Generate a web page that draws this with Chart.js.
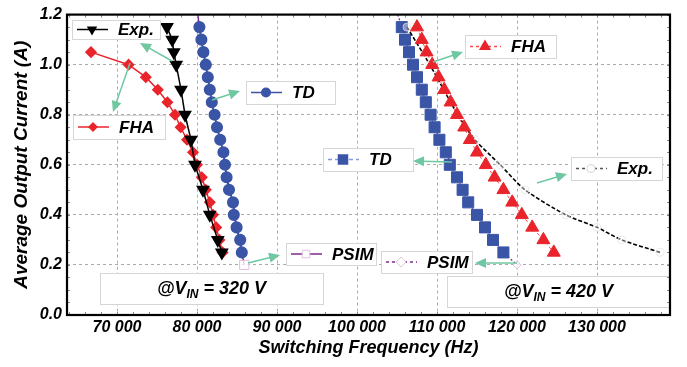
<!DOCTYPE html>
<html>
<head>
<meta charset="utf-8">
<script src="https://cdn.jsdelivr.net/npm/chart.js@4.4.1/dist/chart.umd.min.js"></script>
<style>
html, body { margin: 0; padding: 0; background: #fff; }
</style>
</head>
<body>
<canvas id="chart" width="687" height="367"></canvas>
<script>
// axis ticks
const xTicks = [70000, 80000, 90000, 100000, 110000, 120000, 130000];
const yTicks = [0, 0.2, 0.4, 0.6, 0.8, 1.0, 1.2];

// @Vin = 320 V
const exp320Freq = [76250, 76900, 77100, 77400, 78000, 78500, 79250, 79750, 80750, 81600, 82600, 83100];
const exp320Cur  = [1.15, 1.10, 1.05, 1.00, 0.90, 0.80, 0.70, 0.60, 0.50, 0.40, 0.30, 0.25];

const fha320Freq = [66750, 71450, 73600, 75100, 76300, 77250, 77950, 78750, 79500, 80000, 80600, 81100, 81600, 82000, 82400, 82800, 83200];
const fha320Cur  = [1.05, 1.00, 0.95, 0.90, 0.85, 0.80, 0.75, 0.70, 0.65, 0.60, 0.55, 0.50, 0.45, 0.40, 0.35, 0.30, 0.25];

const td320Freq = [80300, 80550, 80800, 81100, 81350, 81600, 81850, 82200, 82500, 82900, 83300, 83500, 83700, 84000, 84500, 84600, 84950, 85400, 85600];
const td320Cur  = [1.15, 1.10, 1.05, 1.00, 0.95, 0.90, 0.85, 0.80, 0.75, 0.70, 0.65, 0.60, 0.55, 0.50, 0.45, 0.40, 0.35, 0.30, 0.25];

const psim320Freq = [80100, 80300, 80800, 81350, 81850, 82500, 83300, 83700, 84500, 84950, 85600, 85900];
const psim320Cur  = [1.20, 1.15, 1.05, 0.95, 0.85, 0.75, 0.65, 0.55, 0.45, 0.35, 0.25, 0.20];

// @Vin = 420 V
const td420Freq = [105600, 106000, 106500, 107000, 107500, 108100, 108600, 109200, 109700, 110300, 111100, 111600, 112500, 113200, 113900, 115000, 116000, 117000, 118300];
const td420Cur  = [1.15, 1.10, 1.05, 1.00, 0.95, 0.90, 0.85, 0.80, 0.75, 0.70, 0.65, 0.60, 0.55, 0.50, 0.45, 0.40, 0.35, 0.30, 0.25];

const fha420Freq = [107500, 108100, 108700, 109400, 110200, 110900, 111700, 112500, 113400, 114100, 115000, 116100, 117200, 118300, 119400, 120600, 121900, 123300, 124600];
const fha420Cur  = [1.15, 1.10, 1.05, 1.00, 0.95, 0.90, 0.85, 0.80, 0.75, 0.70, 0.65, 0.60, 0.55, 0.50, 0.45, 0.40, 0.35, 0.30, 0.25];

const exp420Freq = [106250, 109100, 112600, 114750, 117900, 121000, 126100, 130000, 133100, 137900];
const exp420Cur  = [1.15, 1.00, 0.80, 0.70, 0.60, 0.50, 0.40, 0.35, 0.30, 0.25];

const psim420Freq = [105100, 105600, 106500, 107500, 108600, 109700, 111100, 112500, 113900, 116000, 118300, 120000];
const psim420Cur  = [1.20, 1.15, 1.05, 0.95, 0.85, 0.75, 0.65, 0.55, 0.45, 0.35, 0.25, 0.20];

const pts = (fs, cs) => fs.map((f, i) => ({ x: f, y: cs[i] }));
const lastOnly = r => c => (c.dataIndex === c.dataset.data.length - 1 ? r : 0);

const RED = '#e9242b', BLUE = '#3a55a6', PURPLE = '#7a2b8c', GREEN = '#6fc8a1';
const FONT = '"Liberation Sans", Arial, sans-serif';

// label boxes, arrows (pixel layout)
const boxes = [
  { r: [72, 20, 160, 39], text: 'Exp.', line: '#000', dash: [], mk: 'triDown', mr: 6, fill: '#000' },
  { r: [73, 115, 165, 139], text: 'FHA', line: RED, dash: [], mk: 'rectRot', mr: 5, fill: RED },
  { r: [246, 81, 335, 104], text: 'TD', line: BLUE, dash: [], mk: 'circle', mr: 5, fill: BLUE },
  { r: [286, 243, 376, 265], text: 'PSIM', line: PURPLE, dash: [], mk: 'rect', mr: 5, fill: '#fff', stroke: '#e2bfe2' },
  { r: [465, 35, 556, 58], text: 'FHA', line: '#ff4a4a', dash: [3, 3], mk: 'triUp', mr: 7, fill: RED },
  { r: [323, 148, 413, 171], text: 'TD', line: '#7f9de0', dash: [4, 3], mk: 'rect', mr: 7, fill: BLUE },
  { r: [571, 157, 662, 180], text: 'Exp.', line: '#555', dash: [3, 3], mk: 'circle', mr: 4, fill: '#fff', stroke: '#d8d8d8' },
  { r: [381, 251, 472, 273], text: 'PSIM', line: PURPLE, dash: [3, 3], mk: 'rectRot', mr: 5, fill: '#fff', stroke: '#e2bfe2' }
];
const vinBoxes = [
  { r: [100, 273, 323, 304], v: '320' },
  { r: [447, 276, 670, 307], v: '420' }
];
const arrows = [
  [172, 61, 140, 43], [130, 63, 113, 112], [212, 100, 240, 91], [248, 263, 280, 255],
  [433, 62, 463, 52], [452, 162, 413, 161], [537, 183, 567, 174], [517, 263, 475, 263]
];

function marker(c, style, x, y, r, fill, stroke) {
  c.save();
  c.setLineDash([]);
  c.beginPath();
  if (style === 'circle') c.arc(x, y, r, 0, Math.PI * 2);
  else if (style === 'rect') c.rect(x - r * 0.75, y - r * 0.75, r * 1.5, r * 1.5);
  else if (style === 'rectRot') { c.moveTo(x - r, y); c.lineTo(x, y - r); c.lineTo(x + r, y); c.lineTo(x, y + r); c.closePath(); }
  else if (style === 'triUp') { c.moveTo(x, y - r); c.lineTo(x + r * 0.87, y + r * 0.5); c.lineTo(x - r * 0.87, y + r * 0.5); c.closePath(); }
  else if (style === 'triDown') { c.moveTo(x, y + r); c.lineTo(x + r * 0.87, y - r * 0.5); c.lineTo(x - r * 0.87, y - r * 0.5); c.closePath(); }
  if (fill) { c.fillStyle = fill; c.fill(); }
  if (stroke) { c.strokeStyle = stroke; c.lineWidth = 1; c.stroke(); }
  c.restore();
}

function panel(c, r) {
  c.fillStyle = '#fff';
  c.fillRect(r[0], r[1], r[2] - r[0], r[3] - r[1]);
  c.strokeStyle = '#d6d6d6';
  c.lineWidth = 1;
  c.strokeRect(r[0] + 0.5, r[1] + 0.5, r[2] - r[0], r[3] - r[1]);
}

const decor = {
  id: 'decor',
  afterDatasetsDraw(chart) {
    const c = chart.ctx;
    c.save();
    // arrows
    arrows.forEach(([x1, y1, x2, y2]) => {
      const a = Math.atan2(y2 - y1, x2 - x1);
      c.strokeStyle = GREEN; c.fillStyle = GREEN; c.lineWidth = 1.5;
      c.beginPath(); c.moveTo(x1, y1); c.lineTo(x2 - 8 * Math.cos(a), y2 - 8 * Math.sin(a)); c.stroke();
      c.beginPath();
      c.moveTo(x2, y2);
      c.lineTo(x2 - 11 * Math.cos(a) + 5 * Math.sin(a), y2 - 11 * Math.sin(a) - 5 * Math.cos(a));
      c.lineTo(x2 - 11 * Math.cos(a) - 5 * Math.sin(a), y2 - 11 * Math.sin(a) + 5 * Math.cos(a));
      c.closePath(); c.fill();
    });
    // legend-like labels
    boxes.forEach(b => {
      const [x1, y1, x2, y2] = b.r;
      const cy = (y1 + y2) / 2;
      panel(c, b.r);
      c.strokeStyle = b.line; c.lineWidth = 1.5; c.setLineDash(b.dash);
      c.beginPath(); c.moveTo(x1 + 5, cy); c.lineTo(x1 + 36, cy); c.stroke();
      c.setLineDash([]);
      marker(c, b.mk, x1 + 20, cy, b.mr, b.fill, b.stroke);
      c.fillStyle = '#000';
      c.font = 'italic bold 17px ' + FONT;
      c.textBaseline = 'middle'; c.textAlign = 'left';
      c.fillText(b.text, x1 + 46, cy + 1);
    });
    vinBoxes.forEach(b => {
      const [x1, y1, x2, y2] = b.r;
      panel(c, b.r);
      const big = 'italic bold 18px ' + FONT, small = 'italic bold 12px ' + FONT;
      const p1 = '@V', p2 = 'IN', p3 = ' = ' + b.v + ' V';
      c.font = big; const w1 = c.measureText(p1).width, w3 = c.measureText(p3).width;
      c.font = small; const w2 = c.measureText(p2).width;
      let x = (x1 + x2) / 2 - (w1 + w2 + w3) / 2;
      const cy = (y1 + y2) / 2 + 1;
      c.fillStyle = '#000'; c.textBaseline = 'middle'; c.textAlign = 'left';
      c.font = big; c.fillText(p1, x, cy); x += w1;
      c.font = small; c.fillText(p2, x, cy + 5); x += w2;
      c.font = big; c.fillText(p3, x, cy);
    });
    c.restore();
  },
  afterDraw(chart) {
    const c = chart.ctx, a = chart.chartArea;
    const xs = chart.scales.x, ys = chart.scales.y;
    c.save();
    // minor tick stubs
    c.strokeStyle = '#8a8a8a'; c.lineWidth = 1;
    c.beginPath();
    for (let f = 64000; f <= 139000; f += 2000) {
      const px = Math.round(xs.getPixelForValue(f)) + 0.5;
      c.moveTo(px, a.top); c.lineTo(px, a.top + 3);
      c.moveTo(px, a.bottom); c.lineTo(px, a.bottom - 3);
    }
    for (let k = 0; k <= 24; k++) {
      const py = Math.round(ys.getPixelForValue(k * 0.05)) + 0.5;
      c.moveTo(a.left, py); c.lineTo(a.left + 3, py);
      c.moveTo(a.right, py); c.lineTo(a.right - 3, py);
    }
    c.stroke();
    // frame
    c.strokeStyle = '#000'; c.lineWidth = 2.2;
    c.strokeRect(a.left, a.top, a.right - a.left, a.bottom - a.top);
    c.restore();
  }
};

const ctx = document.getElementById('chart').getContext('2d');
new Chart(ctx, {
  type: 'line',
  data: {
    datasets: [
      { label: 'Exp. 320', data: pts(exp320Freq, exp320Cur), borderColor: '#000', borderWidth: 1.5,
        pointStyle: 'triangle', rotation: 180, pointRadius: 6.5, pointBackgroundColor: '#000', pointBorderColor: '#000' },
      { label: 'FHA 320', data: pts(fha320Freq, fha320Cur), borderColor: RED, borderWidth: 1.5,
        pointStyle: 'rectRot', pointRadius: 5, pointBackgroundColor: RED, pointBorderColor: RED },
      { label: 'TD 320', data: pts(td320Freq, td320Cur), borderColor: BLUE, borderWidth: 1.5,
        pointStyle: 'circle', pointRadius: 5.3, pointBackgroundColor: BLUE, pointBorderColor: BLUE },
      { label: 'PSIM 320', data: pts(psim320Freq, psim320Cur), borderColor: PURPLE, borderWidth: 1.5,
        pointStyle: 'rect', pointRadius: lastOnly(6.5), pointBackgroundColor: 'rgba(255,255,255,0.8)', pointBorderColor: '#e2bfe2', pointBorderWidth: 1 },
      { label: 'FHA 420', data: pts(fha420Freq, fha420Cur), borderColor: '#ff4a4a', borderWidth: 1, borderDash: [3, 3],
        pointStyle: 'triangle', pointRadius: 7.5, pointBackgroundColor: RED, pointBorderColor: RED },
      { label: 'Exp. 420', data: pts(exp420Freq, exp420Cur), borderColor: '#000', borderWidth: 1.6, borderDash: [4, 2], tension: 0.25,
        pointStyle: 'circle', pointRadius: 4, pointBackgroundColor: 'rgba(255,255,255,0.4)', pointBorderColor: 'rgba(225,225,225,0.7)', pointBorderWidth: 1 },
      { label: 'TD 420', data: pts(td420Freq, td420Cur), borderColor: '#7f9de0', borderWidth: 1, borderDash: [4, 3],
        pointStyle: 'rect', pointRadius: 7.8, pointBackgroundColor: BLUE, pointBorderColor: BLUE },
      { label: 'PSIM 420', data: pts(psim420Freq, psim420Cur), borderColor: PURPLE, borderWidth: 1.3, borderDash: [2, 2],
        pointStyle: 'rectRot', pointRadius: lastOnly(4), pointBackgroundColor: 'rgba(255,255,255,0.8)', pointBorderColor: '#e2bfe2', pointBorderWidth: 1 }
    ]
  },
  options: {
    responsive: false,
    animation: false,
    layout: { padding: { left: 0, right: 17, top: 13, bottom: 0 } },
    plugins: { legend: { display: false }, tooltip: { enabled: false } },
    scales: {
      x: {
        type: 'linear', min: 63750, max: 139125,
        afterBuildTicks: s => { s.ticks = xTicks.map(v => ({ value: v })); },
        afterFit: s => { s.height = 52; },
        ticks: {
          color: '#000', padding: 3, maxRotation: 0,
          font: { family: FONT, size: 16, style: 'italic', weight: 'bold' },
          callback: v => String(v).replace(/\B(?=(\d{3})+(?!\d))/g, ' ')
        },
        grid: { color: '#ababab', lineWidth: 1, drawTicks: false },
        border: { display: false, dash: [3, 3] },
        title: { display: true, text: 'Switching Frequency (Hz)', color: '#000',
          font: { family: FONT, size: 18, style: 'italic', weight: 'bold' }, padding: { top: 0, bottom: 8 } }
      },
      y: {
        min: 0, max: 1.2,
        afterBuildTicks: s => { s.ticks = yTicks.map(v => ({ value: v })); },
        afterFit: s => { s.width = 67; },
        ticks: {
          color: '#000', padding: 5,
          font: { family: FONT, size: 16, style: 'italic', weight: 'bold' },
          callback: v => v.toFixed(1)
        },
        grid: { color: '#ababab', lineWidth: 1, drawTicks: false },
        border: { display: false, dash: [3, 3] },
        title: { display: true, text: 'Average Output Current (A)', color: '#000',
          font: { family: FONT, size: 19, style: 'italic', weight: 'bold' }, padding: { top: 10, bottom: 0 } }
      }
    }
  },
  plugins: [decor]
});
</script>
</body>
</html>
